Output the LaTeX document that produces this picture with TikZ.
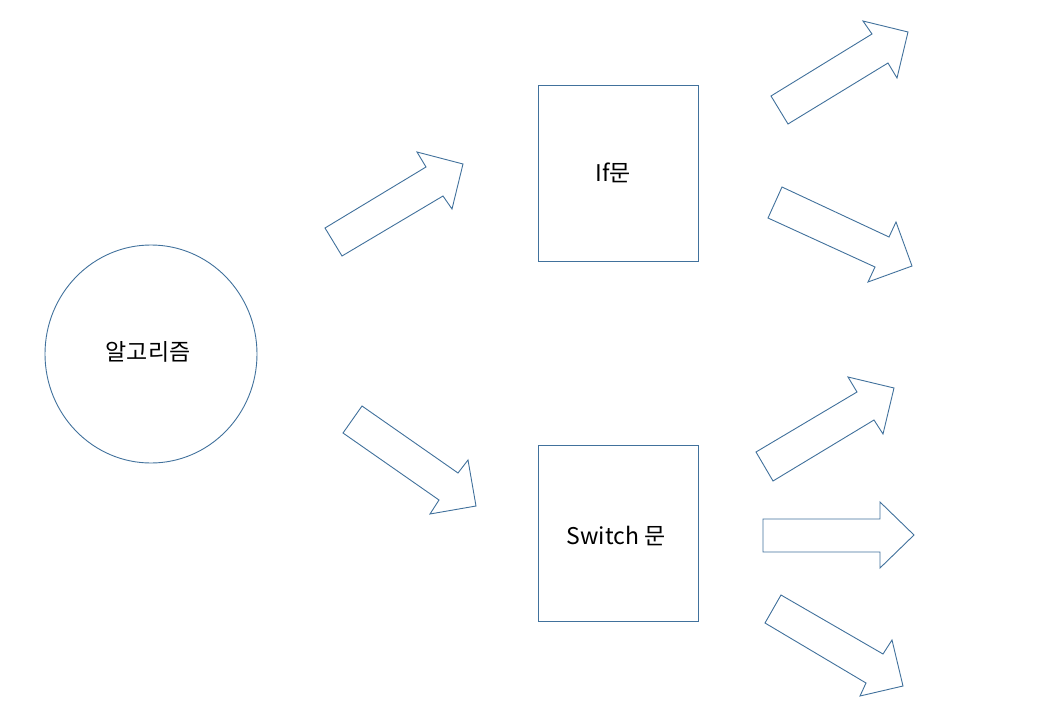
\documentclass[tikz,border=0pt]{standalone}
\usepackage{fontspec}
\usetikzlibrary{shapes.geometric}
\setmainfont{Noto Sans CJK KR}
\definecolor{line}{HTML}{41719C}
\tikzset{
  shapeline/.style={draw=line, line width=0.9pt, line join=miter},
  box/.style={shapeline, rectangle, minimum width=160pt, minimum height=176pt, inner sep=0pt},
  lbl/.style={font=\fontsize{23}{27}\selectfont, text=black, inner sep=0pt},
  blockarrow/.style={shapeline, fill=white}
}
\begin{document}
\begin{tikzpicture}[x=1pt, y=-1pt]
\useasboundingbox (0,0) rectangle (1050,712);
% circle
\node[shapeline, ellipse, minimum width=212pt, minimum height=218pt, inner sep=0pt] (alg) at (151,354) {};
\node[lbl] (algt) at (148,352) {알고리즘};
% boxes
\node[box] (ifb) at (618,173) {};
\node[lbl] (ift) at (613,173) {If문};
\node[box] (swb) at (618,533.5) {};
\node[lbl] (swt) at (616,536) {Switch 문};
% block arrows
\draw[blockarrow] (325,228) -- (426,167) -- (417,152) -- (463,164) -- (452,209) -- (443,196) -- (342,256) -- cycle;
\draw[blockarrow] (362,406) -- (458,473) -- (468,460) -- (476,506) -- (430,514) -- (439,500) -- (343,433) -- cycle;
\draw[blockarrow] (771,96) -- (872,34) -- (863,21) -- (908,32) -- (897,78) -- (888,63) -- (788,124) -- cycle;
\draw[blockarrow] (782,187) -- (889,237) -- (896,222) -- (912,266) -- (868,282) -- (875,267) -- (768,218) -- cycle;
\draw[blockarrow] (756,452) -- (857,392) -- (848,377) -- (894,388) -- (883,434) -- (874,420) -- (773,481) -- cycle;
\draw[blockarrow] (763,519) -- (880,519) -- (880,502) -- (914,535) -- (880,568) -- (880,552) -- (763,552) -- cycle;
\draw[blockarrow] (781,595) -- (883,654) -- (892,640) -- (903,686) -- (860,696) -- (866,683) -- (765,623) -- cycle;
\end{tikzpicture}
\end{document}
